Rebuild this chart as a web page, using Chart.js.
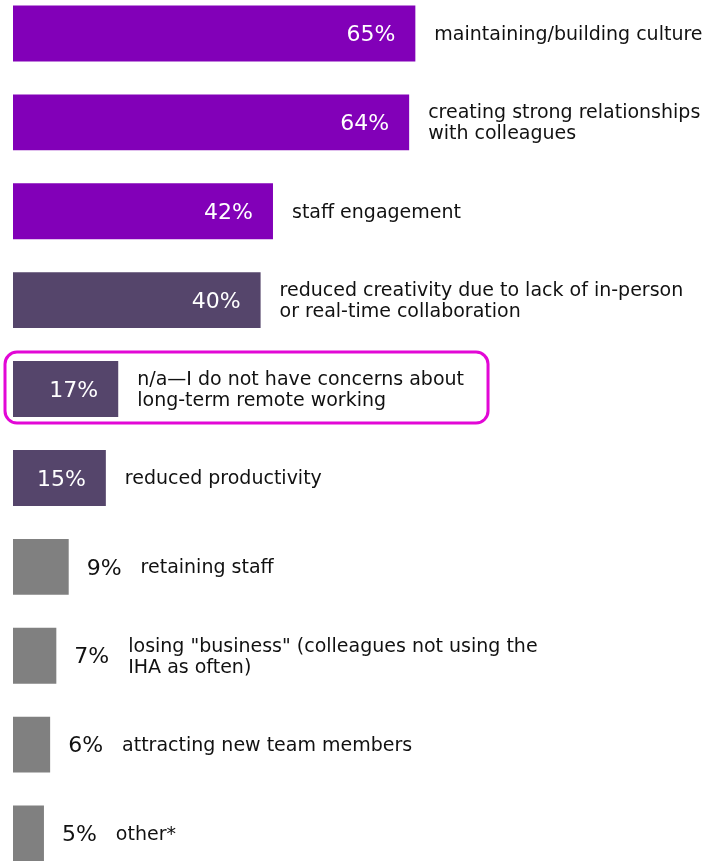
<!DOCTYPE html>
<html>
<head>
<meta charset="utf-8">
<script src="https://cdn.jsdelivr.net/npm/chart.js@4/dist/chart.umd.min.js"></script>
<style>
  html, body { margin: 0; padding: 0; background: #fff; overflow: hidden; }
  #wrap { position: absolute; left: 0; top: -11px; width: 722px; height: 889px; }
</style>
</head>
<body>
<div id="wrap"><canvas id="concerns" width="722" height="889"></canvas></div>
<script>
// --- data ---
const CATEGORIES = [
  ['maintaining/building culture'],
  ['creating strong relationships', 'with colleagues'],
  ['staff engagement'],
  ['reduced creativity due to lack of in-person', 'or real-time collaboration'],
  ['n/a\u2014I do not have concerns about', 'long-term remote working'],
  ['reduced productivity'],
  ['retaining staff'],
  ['losing "business" (colleagues not using the', 'IHA as often)'],
  ['attracting new team members'],
  ['other*'],
];
const VALUES = [65, 64, 42, 40, 17, 15, 9, 7, 6, 5];
const GROUP  = ['top', 'top', 'top', 'mid', 'mid', 'mid', 'low', 'low', 'low', 'low'];
const HIGHLIGHT_ROW = 4;

const COLORS = { top: '#8200b8', mid: '#55456b', low: '#808080' };
const FONT = '"DejaVu Sans", "Noto Sans", sans-serif';

// percentages + category labels + the magenta box round the n/a row
const labelPlugin = {
  id: 'barLabels',
  afterDatasetsDraw(chart) {
    const { ctx } = chart;
    const meta = chart.getDatasetMeta(0);
    ctx.save();
    meta.data.forEach((bar, i) => {
      const v = VALUES[i];
      const cy = bar.y;
      const inside = GROUP[i] !== 'low';
      ctx.textBaseline = 'middle';
      ctx.font = '22px ' + FONT;
      let labelX;
      if (inside) {
        ctx.fillStyle = '#ffffff';
        ctx.textAlign = 'right';
        ctx.fillText(v + '%', bar.x - 20, cy + 2);
        labelX = bar.x + 19;
      } else {
        ctx.fillStyle = '#111111';
        ctx.textAlign = 'left';
        const px = bar.x + 18;
        ctx.fillText(v + '%', px, cy + 2);
        labelX = px + ctx.measureText(v + '%').width + 19;
      }

      const lines = CATEGORIES[i];
      ctx.font = '19px ' + FONT;
      ctx.fillStyle = '#111111';
      ctx.textAlign = 'left';
      const lh = 21;
      const y0 = cy - (lines.length - 1) * lh / 2 + 1.5;
      let maxW = 0;
      lines.forEach((ln, k) => {
        ctx.fillText(ln, labelX, y0 + k * lh);
        maxW = Math.max(maxW, ctx.measureText(ln).width);
      });

      if (i === HIGHLIGHT_ROW) {
        const half = bar.height / 2;
        const left = chart.chartArea.left - 8;
        const top = cy - half - 9;
        const right = labelX + maxW + 24;
        const bottom = cy + half + 6;
        ctx.strokeStyle = '#e207d6';
        ctx.lineWidth = 3;
        ctx.beginPath();
        ctx.roundRect(left, top, right - left, bottom - top, 12);
        ctx.stroke();
      }
    });
    ctx.restore();
  },
};

new Chart(document.getElementById('concerns'), {
  type: 'bar',
  data: {
    labels: CATEGORIES.map(c => c.join(' ')),
    datasets: [{
      data: VALUES,
      backgroundColor: GROUP.map(g => COLORS[g]),
      borderWidth: 0,
      barPercentage: 56 / 89,
      categoryPercentage: 1,
    }],
  },
  options: {
    indexAxis: 'y',
    responsive: false,
    animation: false,
    layout: { padding: { left: 13, right: 90, top: 0, bottom: 0 } },
    plugins: { legend: { display: false }, tooltip: { enabled: false } },
    scales: {
      x: { min: 0, max: 100, display: false },
      y: { display: false },
    },
  },
  plugins: [labelPlugin],
});
</script>
</body>
</html>
